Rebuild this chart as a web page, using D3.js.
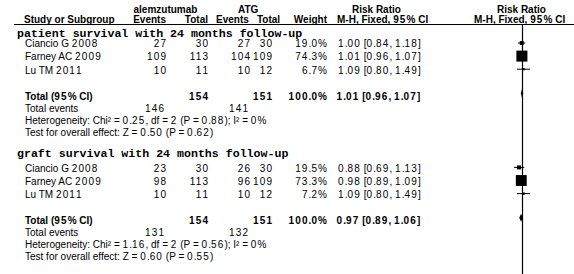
<!DOCTYPE html>
<html><head><meta charset="utf-8">
<script src="https://cdn.jsdelivr.net/npm/d3@7"></script>
<style>
html,body{margin:0;padding:0;background:#fff;}
text{font-family:"Liberation Sans",Arial,sans-serif;font-size:10px;fill:#000;}
.b{font-weight:bold;}
.title{font-family:"Liberation Mono","Courier New",monospace;font-weight:bold;font-size:11.6px;}
</style></head>
<body>
<svg id="c" width="574" height="274"></svg>
<script>
const groupTitles = ["patient survival with 24 months follow-up", "graft survival with 24 months follow-up"];
const studyNames = ["Ciancio G 2008", "Farney AC 2009", "Lu TM 2011"];
const alemEvents = [[27, 109, 10], [23, 98, 10]];
const alemTotal = [[30, 113, 11], [30, 113, 11]];
const atgEvents = [[27, 104, 10], [26, 96, 10]];
const atgTotal = [[30, 109, 12], [30, 109, 12]];
const weights = [[19.0, 74.3, 6.7], [19.5, 73.3, 7.2]];
const rr = [[1.00, 1.01, 1.09], [0.88, 0.98, 1.09]];
const rrLow = [[0.84, 0.96, 0.80], [0.69, 0.89, 0.80]];
const rrHigh = [[1.18, 1.07, 1.49], [1.13, 1.09, 1.49]];
const totalAlem = [154, 154];
const totalAtg = [151, 151];
const totalRR = [1.01, 0.97];
const totalLow = [0.96, 0.89];
const totalHigh = [1.07, 1.06];
const totalEventsAlem = [146, 131];
const totalEventsAtg = [141, 132];
const hetChi = ["0.25", "1.16"];
const hetP = ["0.88", "0.56"];
const hetI2 = ["0%", "0%"];
const testZ = ["0.50", "0.60"];
const testP = ["0.62", "0.55"];
const xDomain = [0.1, 10];

const svg = d3.select("#c");
const x = d3.scaleLog().domain(xDomain).range([473.6, 569.8]);
const size = d3.scaleLinear().domain([0, 100]).range([1.5, 14.3]);
const f2 = d3.format(".2f"), f1 = d3.format(".1f");

const colStudy = 25, colAE = 166, colAT = 208, colGE = 250, colGT = 272, colW = 327, colRR = 338;
const DIGIT_SP = 1.15;

// text with widened digits (mimics the reference's hinted bitmap digits)
function txt(xp, yp, s, anchor, cls) {
  s = String(s);
  const t = svg.append("text").attr("x", xp).attr("y", yp).attr("dy", "0.35em")
    .attr("text-anchor", anchor || "start").attr("class", cls || null);
  const parts = s.split(/(\d+)/).filter(p => p.length);
  parts.forEach((p, k) => {
    const isD = /^\d+$/.test(p);
    const last = k === parts.length - 1;
    if (isD) {
      if (last) {
        // spacing between digits only, not after the last one
        t.append("tspan").style("letter-spacing", DIGIT_SP + "px").text(p.slice(0, -1));
        t.append("tspan").text(p.slice(-1));
      } else {
        t.append("tspan").style("letter-spacing", DIGIT_SP + "px").text(p);
      }
    } else {
      t.append("tspan").text(p);
    }
  });
  return t;
}

// headers
txt(133.5, 9.5, "alemzutumab", "start", "b");
txt(238, 9.5, "ATG", "start", "b");
txt(352, 9.5, "Risk Ratio", "start", "b");
txt(497, 9.5, "Risk Ratio", "start", "b");
txt(24, 19, "Study or Subgroup", "start", "b");
txt(colAE, 19, "Events", "end", "b");
txt(colAT, 19, "Total", "end", "b");
txt(216, 19, "Events", "start", "b");
txt(257, 19, "Total", "start", "b");
txt(colW, 19, "Weight", "end", "b");
txt(337, 19, "M-H, Fixed, 95% CI", "start", "b");
txt(474, 19, "M-H, Fixed, 95% CI", "start", "b");
svg.append("line").attr("x1", 14).attr("x2", 574).attr("y1", 24.5).attr("y2", 24.5)
  .attr("stroke", "#000").attr("stroke-width", 1);

// line of no effect
svg.append("line").attr("x1", Math.round(x(1)) + 0.5).attr("x2", Math.round(x(1)) + 0.5)
  .attr("y1", 24.5).attr("y2", 274).attr("stroke", "#000").attr("stroke-width", 1.2);

const titleY = [32.5, 153];
const startY = [43.8, 168.2];
const rowStep = 13.1;

groupTitles.forEach((t, g) => {
  svg.append("text").attr("class", "title").attr("x", 17).attr("y", titleY[g]).attr("dy", "0.35em").text(t);
  studyNames.forEach((s, i) => {
    const y = startY[g] + rowStep * i;
    txt(colStudy, y, s);
    txt(colAE, y, alemEvents[g][i], "end");
    txt(colAT, y, alemTotal[g][i], "end");
    txt(colGE, y, atgEvents[g][i], "end");
    txt(colGT, y, atgTotal[g][i], "end");
    txt(colW, y, f1(weights[g][i]) + "%", "end");
    txt(colRR, y, f2(rr[g][i]) + " [" + f2(rrLow[g][i]) + ", " + f2(rrHigh[g][i]) + "]");
    const my = y - 0.8;
    svg.append("line").attr("x1", x(rrLow[g][i])).attr("x2", x(rrHigh[g][i]))
      .attr("y1", my).attr("y2", my).attr("stroke", "#000").attr("stroke-width", 1);
    const s2 = size(weights[g][i]);
    svg.append("rect").attr("x", x(rr[g][i]) - s2 / 2).attr("y", my - s2 / 2)
      .attr("width", s2).attr("height", s2).attr("fill", "#000");
  });
  const yT = startY[g] + 52.5;
  txt(colStudy, yT, "Total (95% CI)", "start", "b");
  txt(colAT, yT, totalAlem[g], "end", "b");
  txt(colGT, yT, totalAtg[g], "end", "b");
  txt(colW, yT, "100.0%", "end", "b");
  txt(336.5, yT, f2(totalRR[g]) + " [" + f2(totalLow[g]) + ", " + f2(totalHigh[g]) + "]", "start", "b");
  const dy = yT - 3;
  svg.append("path").attr("d", d3.line()([
    [x(totalLow[g]), dy], [x(totalRR[g]), dy - 4], [x(totalHigh[g]), dy], [x(totalRR[g]), dy + 4]
  ]) + "Z").attr("fill", "#000");
  const yE = startY[g] + 64.5;
  txt(colStudy, yE, "Total events");
  txt(colAE - 2, yE, totalEventsAlem[g], "end");
  txt(colGE - 2, yE, totalEventsAtg[g], "end");
  txt(colStudy, startY[g] + 76.5, "Heterogeneity: Chi² = " + hetChi[g] + ", df = 2 (P = " + hetP[g] + "); I² = " + hetI2[g]);
  txt(colStudy, startY[g] + 88.5, "Test for overall effect: Z = " + testZ[g] + " (P = " + testP[g] + ")");
});
</script>
</body></html>
